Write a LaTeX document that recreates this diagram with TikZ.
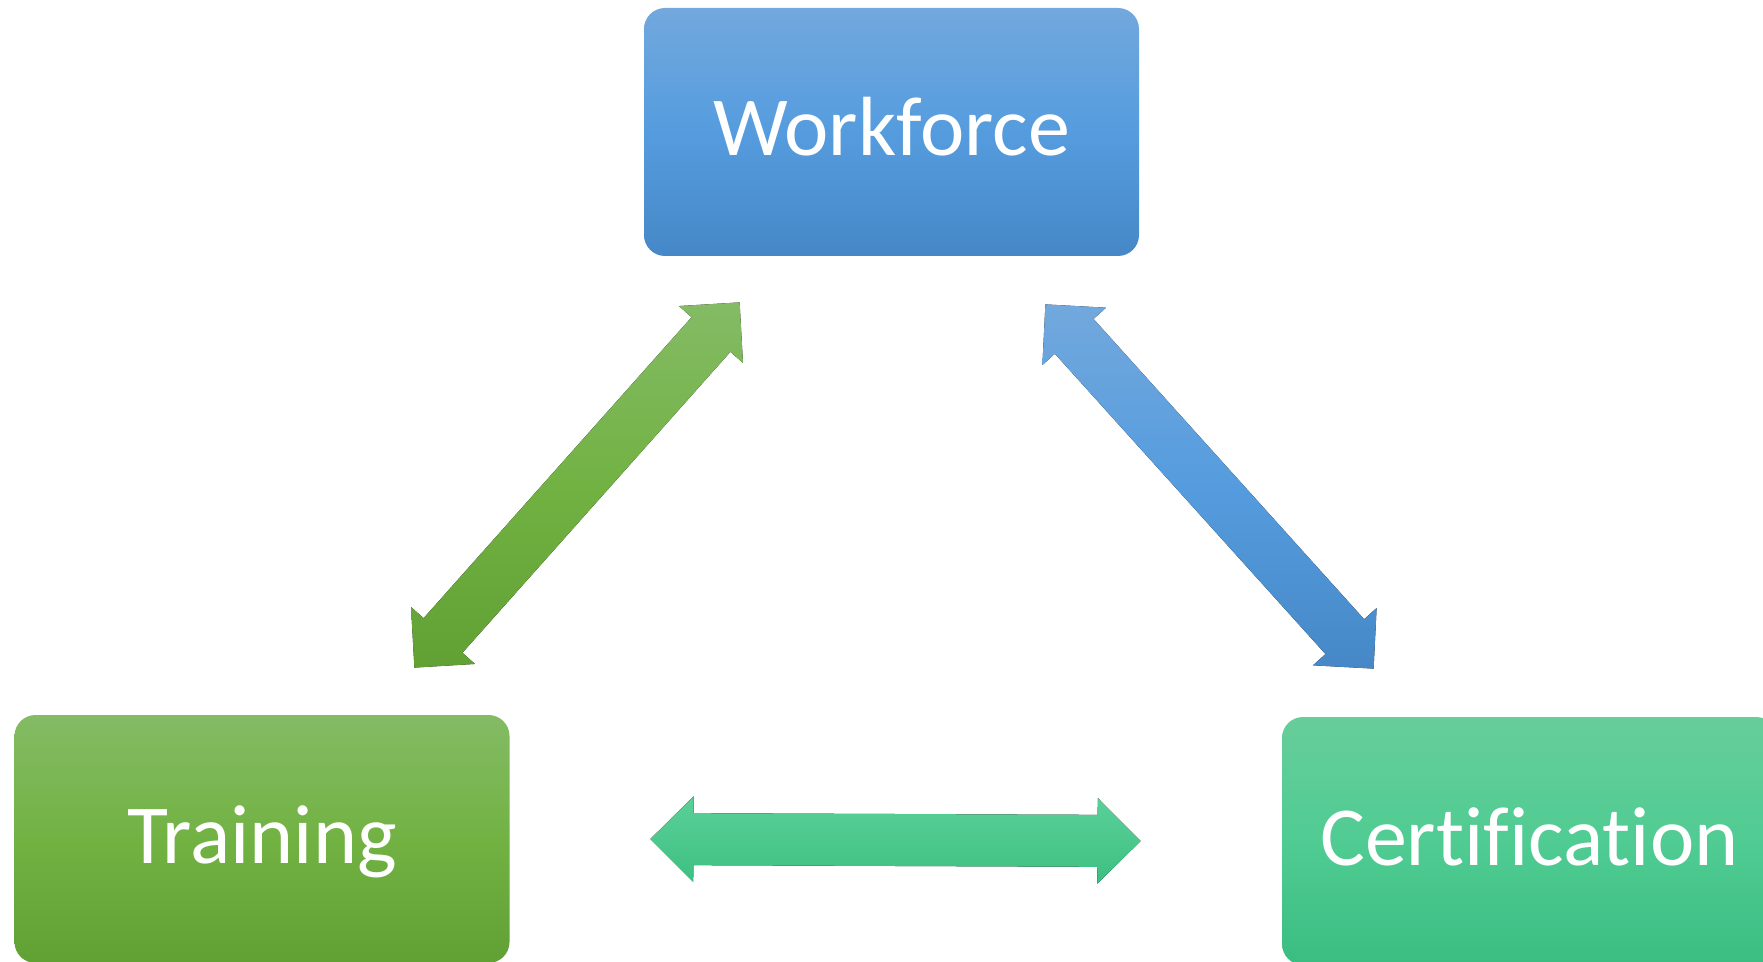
\documentclass[tikz,border=0pt]{standalone}
\usepackage{fontspec}
\setmainfont{Carlito}[Ligatures=NoCommon]
\usepackage{tikz}
\usetikzlibrary{calc}
\usetikzlibrary{positioning}

\definecolor{wfTop}{RGB}{114,168,221}
\definecolor{wfMid}{RGB}{85,156,222}
\definecolor{wfBot}{RGB}{70,136,199}
\definecolor{trTop}{RGB}{132,187,101}
\definecolor{trMid}{RGB}{114,178,67}
\definecolor{trBot}{RGB}{97,161,52}
\definecolor{ceTop}{RGB}{103,205,154}
\definecolor{ceMid}{RGB}{80,204,147}
\definecolor{ceBot}{RGB}{58,189,129}
\definecolor{hzTop}{RGB}{90,208,153}
\definecolor{hzMid}{RGB}{76,200,141}
\definecolor{hzBot}{RGB}{61,191,129}

% double block arrow between two named coordinates
\newcommand{\blockarrow}[3]{%
    \path ($(#1)!\headlen!(#2)$) coordinate (ha) ($(#2)!\headlen!(#1)$) coordinate (hb);
    \fill[#3] (#1) -- ($(ha)!\headhalf!90:(#2)$) -- ($(ha)!\shafthalf!90:(#2)$)
    -- ($(hb)!\shafthalf!-90:(#1)$) -- ($(hb)!\headhalf!-90:(#1)$) -- (#2)
    -- ($(hb)!\headhalf!90:(#1)$) -- ($(hb)!\shafthalf!90:(#1)$)
    -- ($(ha)!\shafthalf!-90:(#2)$) -- ($(ha)!\headhalf!-90:(#2)$) -- cycle;
}

\begin{document}
\begin{tikzpicture}[
        x=0.5pt, y=-0.5pt,
        box/.style={rounded corners=10.5pt, minimum width=247.5pt, minimum height=124pt,
            inner sep=0pt, text=white, text height=32pt, text depth=8pt,
            font=\fontsize{42}{50}\selectfont},
        wfbox/.style={box, top color=wfTop, bottom color=wfBot, middle color=wfMid},
        trbox/.style={box, top color=trTop, bottom color=trBot, middle color=trMid},
        cebox/.style={box, top color=ceTop, bottom color=ceBot, middle color=ceMid},
        greenarrow/.style={top color=trTop, bottom color=trBot, middle color=trMid},
        bluearrow/.style={top color=wfTop, bottom color=wfBot, middle color=wfMid},
        tealarrow/.style={top color=hzTop, bottom color=hzBot, middle color=hzMid}
    ]

    \def\headlen{21.5pt}
    \def\headhalf{21.4pt}
    \def\shafthalf{13pt}

    \useasboundingbox[fill=white] (0,0) rectangle (1763,962);

    \node[wfbox] (workforce) at (891.5,132) {Workforce};
    \node[trbox] (training) at (262,839) {Training};
    \node[cebox] (certification) at (1529.5,841) {Certification};

    \coordinate (gl) at ($(training.north east)+(-95.5,-47)$);
    \coordinate (gu) at ($(workforce.south west)+(96,46)$);
    \coordinate (bu) at ($(workforce.south east)+(-94,48)$);
    \coordinate (bl) at ($(certification.north west)+(92,-48)$);
    \coordinate (hl) at ($(training.east)+(140.5,0)$);
    \coordinate (hr) at ($(certification.west)+(-141,0)$);

    \blockarrow{gl}{gu}{greenarrow}
    \blockarrow{bu}{bl}{bluearrow}
    \blockarrow{hl}{hr}{tealarrow}
\end{tikzpicture}
\end{document}
